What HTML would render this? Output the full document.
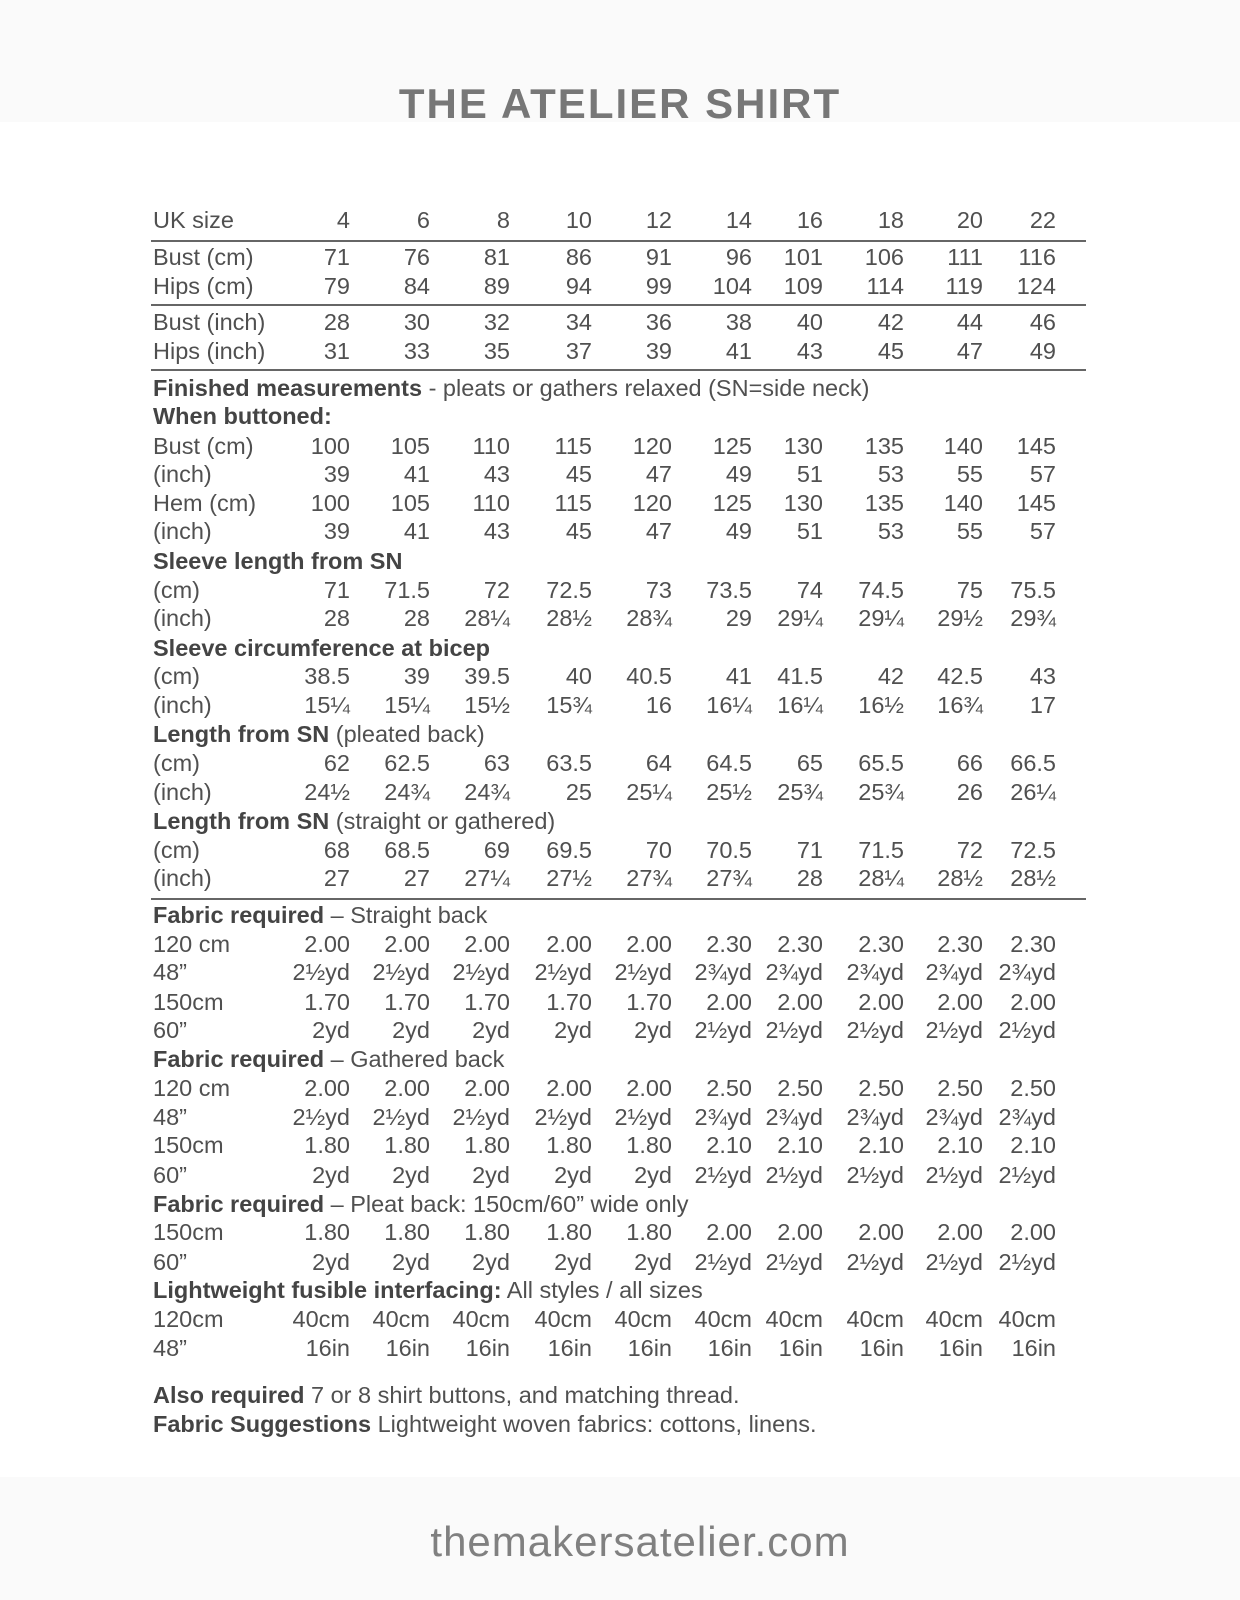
<!DOCTYPE html>
<html><head><meta charset="utf-8"><style>
html,body{margin:0;padding:0}
body{width:1240px;height:1600px;position:relative;background:#fff;font-family:"Liberation Sans",sans-serif;color:#505050;overflow:hidden}
.band{position:absolute;left:0;width:1240px;background:#fafafa}
.title{position:absolute;left:0;width:1240px;top:80px;text-align:center;font-size:42px;color:#777;letter-spacing:2px;font-weight:bold}
.foot{position:absolute;left:20px;width:1240px;top:1518px;text-align:center;font-size:42px;color:#808080;letter-spacing:1px}
.r{position:absolute;left:153px;height:29px;line-height:29px;font-size:23.5px;white-space:nowrap;width:950px}
.r span{position:absolute;top:0;width:120px;text-align:right}
.r span:nth-of-type(1){left:77px}.r span:nth-of-type(2){left:157px}.r span:nth-of-type(3){left:237px}
.r span:nth-of-type(4){left:319px}.r span:nth-of-type(5){left:399px}.r span:nth-of-type(6){left:479px}
.r span:nth-of-type(7){left:550px}.r span:nth-of-type(8){left:631px}.r span:nth-of-type(9){left:710px}
.r span:nth-of-type(10){left:783px}
b{font-weight:bold;color:#444}
.hl{position:absolute;left:151px;width:935px;height:2px;background:#666}
</style></head><body>
<div class="band" style="top:0;height:122px"></div>
<div class="band" style="top:1477px;height:123px"></div>
<div class="title">THE ATELIER SHIRT</div>

<div class="r" style="top:206px">UK size<span>4</span><span>6</span><span>8</span><span>10</span><span>12</span><span>14</span><span>16</span><span>18</span><span>20</span><span>22</span></div>
<div class="hl" style="top:240px"></div>
<div class="r" style="top:243px">Bust (cm)<span>71</span><span>76</span><span>81</span><span>86</span><span>91</span><span>96</span><span>101</span><span>106</span><span>111</span><span>116</span></div>
<div class="r" style="top:272px">Hips (cm)<span>79</span><span>84</span><span>89</span><span>94</span><span>99</span><span>104</span><span>109</span><span>114</span><span>119</span><span>124</span></div>
<div class="hl" style="top:304px"></div>
<div class="r" style="top:308px">Bust (inch)<span>28</span><span>30</span><span>32</span><span>34</span><span>36</span><span>38</span><span>40</span><span>42</span><span>44</span><span>46</span></div>
<div class="r" style="top:337px">Hips (inch)<span>31</span><span>33</span><span>35</span><span>37</span><span>39</span><span>41</span><span>43</span><span>45</span><span>47</span><span>49</span></div>
<div class="hl" style="top:369px"></div>
<div class="r" style="top:374px"><b>Finished measurements</b> - pleats or gathers relaxed (SN=side neck)</div>
<div class="r" style="top:402px"><b>When buttoned:</b></div>
<div class="r" style="top:432px">Bust (cm)<span>100</span><span>105</span><span>110</span><span>115</span><span>120</span><span>125</span><span>130</span><span>135</span><span>140</span><span>145</span></div>
<div class="r" style="top:460px">(inch)<span>39</span><span>41</span><span>43</span><span>45</span><span>47</span><span>49</span><span>51</span><span>53</span><span>55</span><span>57</span></div>
<div class="r" style="top:489px">Hem (cm)<span>100</span><span>105</span><span>110</span><span>115</span><span>120</span><span>125</span><span>130</span><span>135</span><span>140</span><span>145</span></div>
<div class="r" style="top:517px">(inch)<span>39</span><span>41</span><span>43</span><span>45</span><span>47</span><span>49</span><span>51</span><span>53</span><span>55</span><span>57</span></div>
<div class="r" style="top:547px"><b>Sleeve length from SN</b></div>
<div class="r" style="top:576px">(cm)<span>71</span><span>71.5</span><span>72</span><span>72.5</span><span>73</span><span>73.5</span><span>74</span><span>74.5</span><span>75</span><span>75.5</span></div>
<div class="r" style="top:604px">(inch)<span>28</span><span>28</span><span>28¼</span><span>28½</span><span>28¾</span><span>29</span><span>29¼</span><span>29¼</span><span>29½</span><span>29¾</span></div>
<div class="r" style="top:634px"><b>Sleeve circumference at bicep</b></div>
<div class="r" style="top:662px">(cm)<span>38.5</span><span>39</span><span>39.5</span><span>40</span><span>40.5</span><span>41</span><span>41.5</span><span>42</span><span>42.5</span><span>43</span></div>
<div class="r" style="top:691px">(inch)<span>15¼</span><span>15¼</span><span>15½</span><span>15¾</span><span>16</span><span>16¼</span><span>16¼</span><span>16½</span><span>16¾</span><span>17</span></div>
<div class="r" style="top:720px"><b>Length from SN</b> (pleated back)</div>
<div class="r" style="top:749px">(cm)<span>62</span><span>62.5</span><span>63</span><span>63.5</span><span>64</span><span>64.5</span><span>65</span><span>65.5</span><span>66</span><span>66.5</span></div>
<div class="r" style="top:778px">(inch)<span>24½</span><span>24¾</span><span>24¾</span><span>25</span><span>25¼</span><span>25½</span><span>25¾</span><span>25¾</span><span>26</span><span>26¼</span></div>
<div class="r" style="top:807px"><b>Length from SN</b> (straight or gathered)</div>
<div class="r" style="top:836px">(cm)<span>68</span><span>68.5</span><span>69</span><span>69.5</span><span>70</span><span>70.5</span><span>71</span><span>71.5</span><span>72</span><span>72.5</span></div>
<div class="r" style="top:864px">(inch)<span>27</span><span>27</span><span>27¼</span><span>27½</span><span>27¾</span><span>27¾</span><span>28</span><span>28¼</span><span>28½</span><span>28½</span></div>
<div class="hl" style="top:898px"></div>
<div class="r" style="top:901px"><b>Fabric required</b> – Straight back</div>
<div class="r" style="top:930px">120 cm<span>2.00</span><span>2.00</span><span>2.00</span><span>2.00</span><span>2.00</span><span>2.30</span><span>2.30</span><span>2.30</span><span>2.30</span><span>2.30</span></div>
<div class="r" style="top:958px">48”<span>2½yd</span><span>2½yd</span><span>2½yd</span><span>2½yd</span><span>2½yd</span><span>2¾yd</span><span>2¾yd</span><span>2¾yd</span><span>2¾yd</span><span>2¾yd</span></div>
<div class="r" style="top:988px">150cm<span>1.70</span><span>1.70</span><span>1.70</span><span>1.70</span><span>1.70</span><span>2.00</span><span>2.00</span><span>2.00</span><span>2.00</span><span>2.00</span></div>
<div class="r" style="top:1016px">60”<span>2yd</span><span>2yd</span><span>2yd</span><span>2yd</span><span>2yd</span><span>2½yd</span><span>2½yd</span><span>2½yd</span><span>2½yd</span><span>2½yd</span></div>
<div class="r" style="top:1045px"><b>Fabric required</b> – Gathered back</div>
<div class="r" style="top:1074px">120 cm<span>2.00</span><span>2.00</span><span>2.00</span><span>2.00</span><span>2.00</span><span>2.50</span><span>2.50</span><span>2.50</span><span>2.50</span><span>2.50</span></div>
<div class="r" style="top:1103px">48”<span>2½yd</span><span>2½yd</span><span>2½yd</span><span>2½yd</span><span>2½yd</span><span>2¾yd</span><span>2¾yd</span><span>2¾yd</span><span>2¾yd</span><span>2¾yd</span></div>
<div class="r" style="top:1131px">150cm<span>1.80</span><span>1.80</span><span>1.80</span><span>1.80</span><span>1.80</span><span>2.10</span><span>2.10</span><span>2.10</span><span>2.10</span><span>2.10</span></div>
<div class="r" style="top:1161px">60”<span>2yd</span><span>2yd</span><span>2yd</span><span>2yd</span><span>2yd</span><span>2½yd</span><span>2½yd</span><span>2½yd</span><span>2½yd</span><span>2½yd</span></div>
<div class="r" style="top:1190px"><b>Fabric required</b> – Pleat back: 150cm/60” wide only</div>
<div class="r" style="top:1218px">150cm<span>1.80</span><span>1.80</span><span>1.80</span><span>1.80</span><span>1.80</span><span>2.00</span><span>2.00</span><span>2.00</span><span>2.00</span><span>2.00</span></div>
<div class="r" style="top:1248px">60”<span>2yd</span><span>2yd</span><span>2yd</span><span>2yd</span><span>2yd</span><span>2½yd</span><span>2½yd</span><span>2½yd</span><span>2½yd</span><span>2½yd</span></div>
<div class="r" style="top:1276px"><b>Lightweight fusible interfacing:</b> All styles / all sizes</div>
<div class="r" style="top:1305px">120cm<span>40cm</span><span>40cm</span><span>40cm</span><span>40cm</span><span>40cm</span><span>40cm</span><span>40cm</span><span>40cm</span><span>40cm</span><span>40cm</span></div>
<div class="r" style="top:1334px">48”<span>16in</span><span>16in</span><span>16in</span><span>16in</span><span>16in</span><span>16in</span><span>16in</span><span>16in</span><span>16in</span><span>16in</span></div>
<div class="r" style="top:1381px"><b>Also required</b> 7 or 8 shirt buttons, and matching thread.</div>
<div class="r" style="top:1410px"><b>Fabric Suggestions</b> Lightweight woven fabrics: cottons, linens.</div>

<div class="foot">themakersatelier.com</div>
</body></html>
